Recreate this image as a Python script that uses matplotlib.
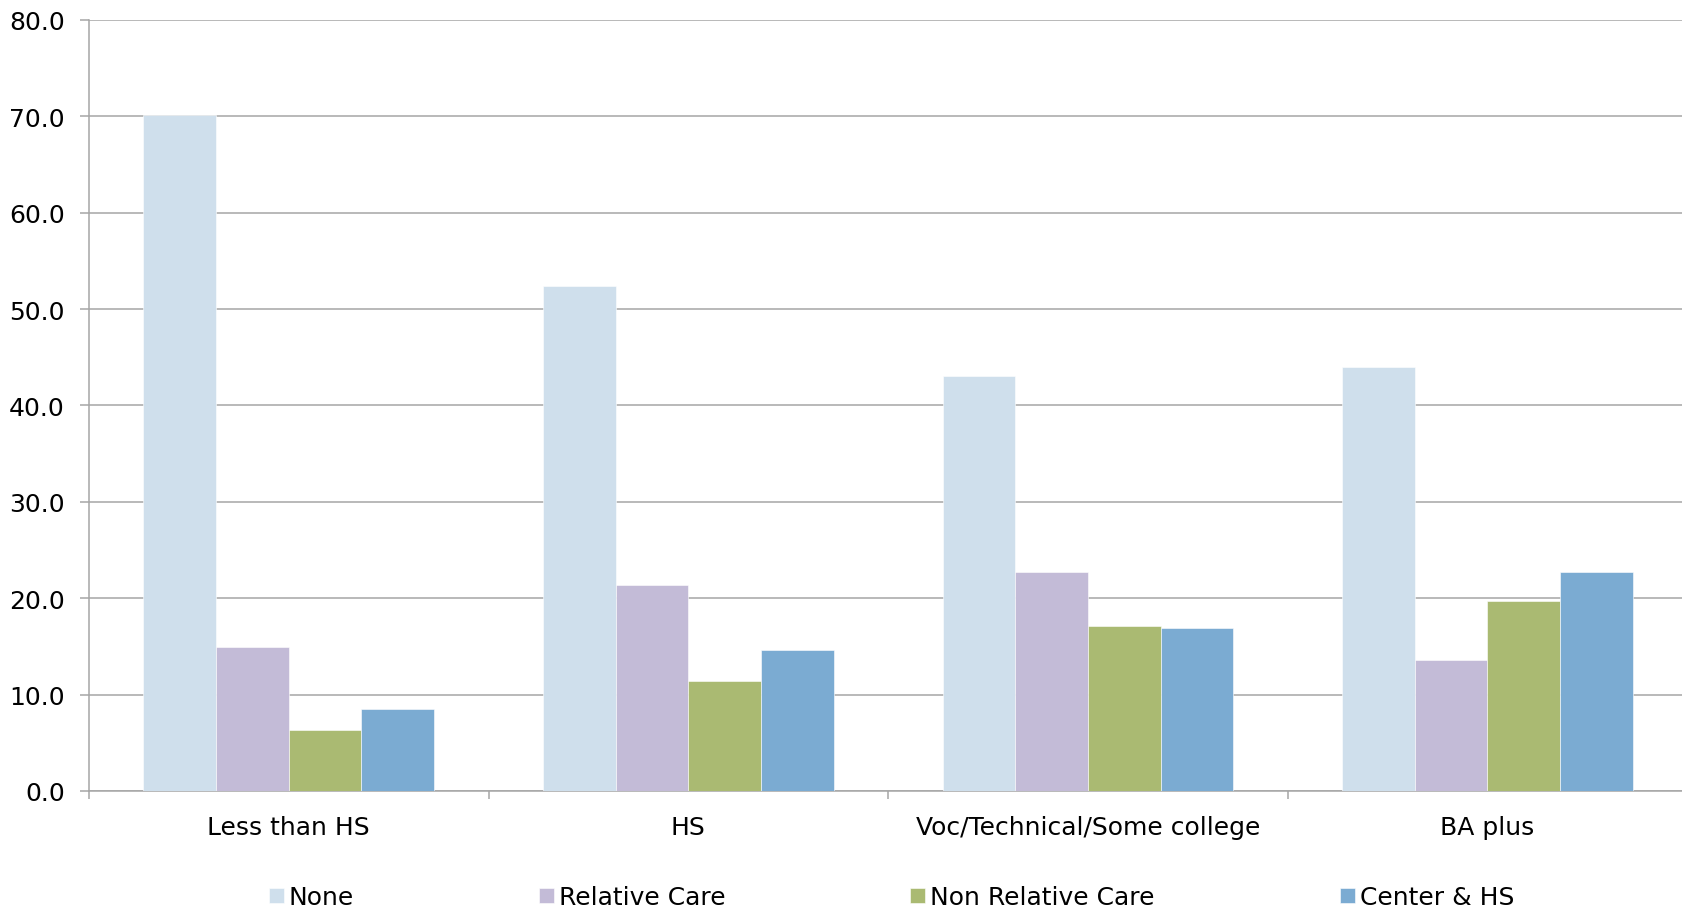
import matplotlib
matplotlib.use("Agg")
import matplotlib.pyplot as plt
import numpy as np
from matplotlib.ticker import FixedLocator, FormatStrFormatter

plt.rcParams["font.family"] = ["DejaVu Sans"]

# ----- Data ---------------------------------------------------------------

categories = ["Less than HS", "HS", "Voc/Technical/Some college", "BA plus"]
series_names = ["None", "Relative Care", "Non Relative Care", "Center & HS"]
none_care = [70.1, 52.4, 43.1, 44.0]
relative_care = [14.9, 21.4, 22.7, 13.6]
non_relative_care = [6.3, 11.4, 17.1, 19.7]
center_hs = [8.5, 14.6, 16.9, 22.7]

colors = ["#CFDFEC", "#C3BBD7", "#AABA72", "#7BABD2"]
grid_gray = "#A6A6A6"
fs = 18

# ----- Plot ---------------------------------------------------------------

fig = plt.figure(figsize=(16.82, 9.12), dpi=100)
ax = fig.add_axes([0.0529, 0.1316, 0.9502, 0.8454])

x = np.arange(len(categories))
bar_w = 1 / 5.5  # Excel-style 150% gap width
values = [none_care, relative_care, non_relative_care, center_hs]
for i, (name, vals, col) in enumerate(zip(series_names, values, colors)):
    offset = (i - 1.5) * bar_w
    ax.bar(x + offset, vals, width=bar_w, color=col, label=name,
           edgecolor="white", linewidth=0.4, zorder=3)

ax.set_xlim(-0.5, len(categories) - 0.5)
ax.set_ylim(0, 80)
ax.set_yticks(np.arange(0, 81, 10))
ax.yaxis.set_major_formatter(FormatStrFormatter("%.1f"))
ax.grid(axis="y", color=grid_gray, lw=1.1, zorder=0)
ax.set_axisbelow(True)

ax.set_xticks(x)
ax.set_xticklabels(categories)
ax.xaxis.set_minor_locator(FixedLocator(np.arange(-0.5, len(categories), 1.0)))
ax.tick_params(axis="x", which="major", length=0, pad=17, labelsize=fs)
ax.tick_params(axis="x", which="minor", length=6, width=1.1, color=grid_gray)
ax.tick_params(axis="y", length=6.5, width=1.1, color=grid_gray, pad=11,
               labelsize=fs)

for side in ("top", "right"):
    ax.spines[side].set_visible(False)
for side in ("left", "bottom"):
    ax.spines[side].set_color(grid_gray)
    ax.spines[side].set_linewidth(1.1)

fig.legend(loc="center", bbox_to_anchor=(0.530, 0.015), ncol=4,
           frameon=False, fontsize=fs, handlelength=0.6, handleheight=0.6,
           handletextpad=0.2, columnspacing=7.4)

fig.savefig("out.png", dpi=100)
plt.close(fig)
